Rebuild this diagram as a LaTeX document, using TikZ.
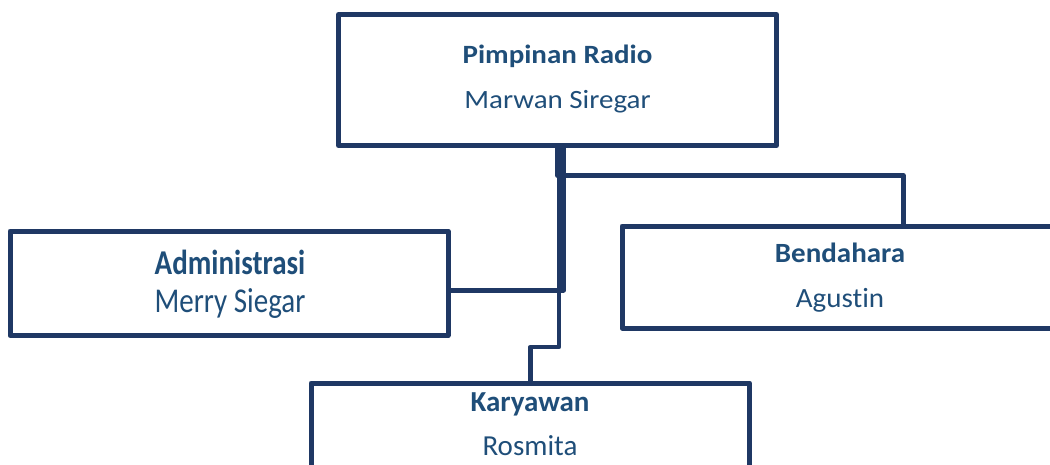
\documentclass[tikz,border=0pt]{standalone}
\usepackage{fontspec}
\setmainfont[RawFeature={-liga}]{Carlito}
\usepackage{graphicx}
\definecolor{boxc}{HTML}{1F3864}
\definecolor{txtc}{HTML}{1F4E79}
\begin{document}
\begin{tikzpicture}[x=1pt,y=-1pt,
 box/.style={draw=boxc, line width=5pt, rectangle, outer sep=0pt, inner sep=0pt, line join=round},
 conn/.style={draw=boxc, line width=4.6pt, line join=round},
 title/.style={anchor=base, text=txtc, font=\fontsize{29}{34}\selectfont\bfseries, inner sep=0pt},
 person/.style={anchor=base, text=txtc, font=\fontsize{29}{34}\selectfont, inner sep=0pt}]
\useasboundingbox (0,0) rectangle (1050,464);
% boxes
\node[box, minimum width=438pt, minimum height=131pt] (top) at (557.5,80) {};
\node[box, minimum width=438pt, minimum height=104.5pt] (admin) at (229,283.25) {};
\node[box, minimum width=436pt, minimum height=102pt] (bend) at (840,277) {};
\node[box, minimum width=438.5pt, minimum height=102pt] (kary) at (530.25,434) {};
% connector end points
\coordinate (bendIn) at ([xshift=63.3pt]bend.north);
\coordinate (adminIn) at ([yshift=-7pt]admin.east);
% connectors
\draw[conn] (top.south) -- ++(0,30) -| (bendIn);
\draw[conn] ([xshift=6pt]top.south) |- (adminIn);
\draw[conn] ([xshift=1.5pt]top.south) -- ++(0,201.5) -| (kary.north);
% texts
\node[title] (topT) at (557.5,63.3) {\scalebox{1}[0.91]{Pimpinan Radio}};
\node[person] (topN) at (557.5,108.3) {\scalebox{1}[0.91]{Marwan Siregar}};
\node[title] (adminT) at (230,274) {\scalebox{1}[1.2]{Administrasi}};
\node[person] (adminN) at (230,312.7) {\scalebox{1}[1.2]{Merry Siegar}};
\node[title] (bendT) at (840,262.3) {\scalebox{1}[0.96]{Bendahara}};
\node[person] (bendN) at (840,307.7) {\scalebox{1}[0.96]{Agustin}};
\node[title] (karyT) at (530,411) {Karyawan};
\node[person] (karyN) at (530,455) {Rosmita};
\end{tikzpicture}
\end{document}
